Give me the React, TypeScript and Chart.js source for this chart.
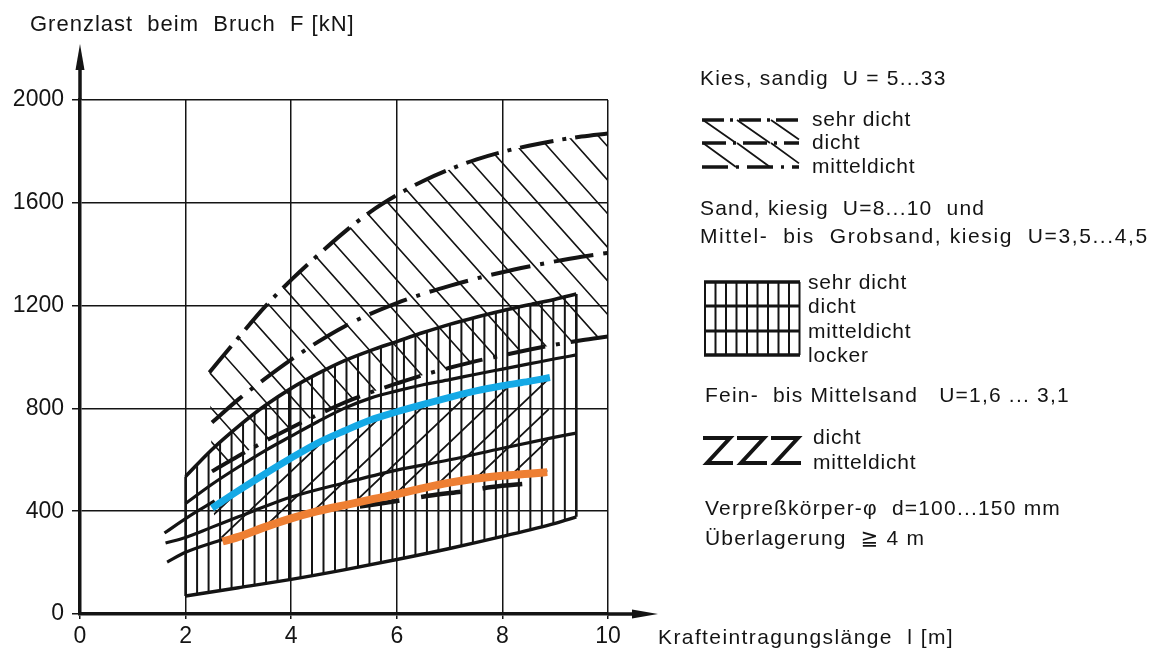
import React, { useEffect, useRef } from "react";
import { Chart, registerables } from "chart.js";

Chart.register(...registerables);

type Pt = [number, number];

const INK = "#141414";
const FONT = '"Liberation Sans", "DejaVu Sans", Arial, sans-serif';

// axis ticks
const xTickValues = [0, 2, 4, 6, 8, 10];
const yTickValues = [0, 400, 800, 1200, 1600, 2000];

// Kies, sandig U = 5...33  (l [m], F [kN])
const kiesSehrDicht: Pt[] = [[2.45, 940], [3, 1075], [3.5, 1195], [4, 1300], [4.5, 1395], [5, 1485], [5.5, 1565], [6, 1630], [6.5, 1685], [7, 1730], [7.5, 1768], [8, 1798], [8.5, 1822], [9, 1842], [9.5, 1858], [10, 1870]];
const kiesDicht: Pt[] = [[2.5, 745], [3, 835], [3.5, 915], [4, 990], [4.5, 1058], [5, 1118], [5.5, 1168], [6, 1210], [6.5, 1246], [7, 1277], [7.5, 1305], [8, 1330], [8.5, 1352], [9, 1372], [9.5, 1390], [10, 1405]];
const kiesMitteldicht: Pt[] = [[2.5, 555], [3, 615], [3.5, 672], [4, 725], [4.5, 775], [5, 822], [5.5, 862], [6, 897], [6.5, 930], [7, 958], [7.5, 984], [8, 1006], [8.5, 1028], [9, 1048], [9.5, 1065], [10, 1080]];

// Sand, kiesig / Mittel- bis Grobsand, kiesig
const sandSehrDicht: Pt[] = [[2, 535], [2.5, 640], [3, 730], [3.5, 810], [4, 878], [4.5, 935], [5, 985], [5.5, 1025], [6, 1060], [6.5, 1095], [7, 1127], [7.5, 1155], [8, 1180], [8.5, 1203], [9, 1225], [9.4, 1245]];
const sandDicht: Pt[] = [[2, 430], [2.5, 505], [3, 572], [3.5, 635], [4, 692], [4.5, 748], [5, 800], [5.5, 840], [6, 868], [6.5, 892], [7, 912], [7.5, 933], [8, 953], [8.5, 973], [9, 993], [9.4, 1008]];
const sandMitteldicht: Pt[] = [[1.62, 276], [2, 298], [2.5, 338], [3, 378], [3.5, 418], [4, 455], [5, 510], [6, 560], [7, 600], [8, 645], [9, 688], [9.4, 704]];
const sandLocker: Pt[] = [[2, 70], [3, 102], [4, 135], [5, 172], [6, 212], [7, 255], [8, 302], [9, 353], [9.4, 378]];

// Fein- bis Mittelsand U = 1,6...3,1
const feinDicht: Pt[] = [[2.5, 412], [3, 480], [3.5, 545], [4, 607], [4.5, 665], [5, 712], [5.5, 755], [6, 787], [6.5, 816], [7, 843], [7.5, 868], [8, 888], [8.5, 905], [8.9, 920]];
const feinMitteldicht: Pt[] = [[2.7, 282], [3, 300], [3.5, 338], [4, 372], [4.5, 400], [5, 423], [5.5, 445], [6, 466], [6.5, 490], [7, 511], [7.5, 527], [8, 538], [8.5, 546], [8.85, 552]];
const feinDichtStub: Pt[] = [[1.6, 315], [2.05, 378], [2.55, 440]];
const feinMitteldichtStub: Pt[] = [[1.65, 202], [2, 240], [2.7, 290]];
const feinMitteldichtDash: Pt[] = [[5.3, 418], [6, 440], [6.6, 460], [7.4, 481], [7.8, 494], [8.5, 508]];

// texts
const titleText = "Grenzlast  beim  Bruch  F [kN]";
const xTitleText = "Krafteintragungslänge  l [m]";
const kiesTitle = "Kies, sandig  U = 5...33";
const kiesLabels = ["sehr dicht", "dicht", "mitteldicht"];
const sandTitle = ["Sand, kiesig  U=8...10  und", "Mittel-  bis  Grobsand, kiesig  U=3,5...4,5"];
const sandLabels = ["sehr dicht", "dicht", "mitteldicht", "locker"];
const feinTitle = "Fein-  bis Mittelsand   U=1,6 ... 3,1";
const feinLabels = ["dicht", "mitteldicht"];
const notes = ["Verpreßkörper-φ  d=100...150 mm", "Überlagerung  ≧ 4 m"];

const hatchPlugin = {
  id: "hatch",
  beforeDatasetsDraw(chart: any) {
    const { ctx, chartArea: a, scales } = chart;
    const P = (pts: Pt[]) => pts.map(([x, y]) => [scales.x.getPixelForValue(x), scales.y.getPixelForValue(y)] as Pt);
    const region = (up: Pt[], lo: Pt[]) => {
      ctx.beginPath();
      up.forEach(([x, y], i) => (i ? ctx.lineTo(x, y) : ctx.moveTo(x, y)));
      [...lo].reverse().forEach(([x, y]) => ctx.lineTo(x, y));
      ctx.closePath();
      ctx.clip();
    };
    const slanted = (x0: number, y0: number, slope: number, spacing: number) => {
      ctx.beginPath();
      const yt = a.top - 20, yb = a.bottom + 20;
      for (let k = -90; k <= 90; k++) {
        const xs = x0 + k * spacing;
        ctx.moveTo(xs + (yt - y0) / slope, yt);
        ctx.lineTo(xs + (yb - y0) / slope, yb);
      }
      ctx.stroke();
    };
    ctx.save();
    ctx.beginPath();
    ctx.rect(a.left, a.top, a.right - a.left, a.bottom - a.top);
    ctx.clip();
    ctx.strokeStyle = INK;

    // Kies: "\" hatching
    const kUp = P(kiesSehrDicht), kLo = P(kiesMitteldicht);
    ctx.save();
    region(kUp, kLo);
    ctx.lineWidth = 1.6;
    slanted(kUp[0][0], kUp[0][1], 1.12, 30);
    ctx.restore();

    // Sand: vertical hatching
    const sUp = P(sandSehrDicht), sLo = P(sandLocker);
    ctx.save();
    region(sUp, sLo);
    ctx.lineWidth = 2;
    const x0 = sUp[0][0], x1 = sUp[sUp.length - 1][0];
    const n = 34;
    ctx.beginPath();
    for (let i = 0; i <= n; i++) {
      const x = x0 + ((x1 - x0) * i) / n;
      ctx.moveTo(x, a.top);
      ctx.lineTo(x, a.bottom);
    }
    ctx.stroke();
    ctx.restore();
    ctx.lineWidth = 2.6;
    ctx.beginPath();
    ctx.moveTo(sUp[0][0], sUp[0][1]);
    ctx.lineTo(sLo[0][0], sLo[0][1]);
    ctx.moveTo(sUp[sUp.length - 1][0], sUp[sUp.length - 1][1]);
    ctx.lineTo(sLo[sLo.length - 1][0], sLo[sLo.length - 1][1]);
    ctx.stroke();

    // Fein- bis Mittelsand: "/" hatching
    const fUp = P(feinDicht), fLo = P(feinMitteldicht);
    ctx.save();
    region(fUp, fLo);
    ctx.lineWidth = 1.8;
    slanted(fUp[fUp.length - 1][0], fUp[fUp.length - 1][1], -0.95, 32);
    ctx.restore();

    ctx.restore();
  },
};

const decorPlugin = {
  id: "decor",
  afterDraw(chart: any) {
    const { ctx, chartArea: a } = chart;
    ctx.save();
    ctx.strokeStyle = INK;
    ctx.fillStyle = INK;
    // axis extensions with arrows
    ctx.lineWidth = 3.5;
    ctx.beginPath();
    ctx.moveTo(a.left, a.top);
    ctx.lineTo(a.left, 60);
    ctx.moveTo(a.right, a.bottom);
    ctx.lineTo(640, a.bottom);
    ctx.stroke();
    ctx.beginPath();
    ctx.moveTo(a.left, 44);
    ctx.lineTo(a.left - 4.5, 70);
    ctx.lineTo(a.left + 4.5, 70);
    ctx.closePath();
    ctx.fill();
    ctx.beginPath();
    ctx.moveTo(658, a.bottom);
    ctx.lineTo(632, a.bottom - 4.5);
    ctx.lineTo(632, a.bottom + 4.5);
    ctx.closePath();
    ctx.fill();

    const text = (s: string, x: number, y: number, size: number, ls: number) => {
      ctx.font = `${size}px ${FONT}`;
      (ctx as any).letterSpacing = `${ls}px`;
      ctx.textAlign = "left";
      ctx.textBaseline = "alphabetic";
      ctx.fillText(s, x, y);
    };
    text(titleText, 30, 31, 22, 1);
    text(xTitleText, 658, 644, 21, 1.4);

    // Kies legend
    text(kiesTitle, 700, 85, 21, 1.2);
    const kRows = [120, 143, 167];
    const kDash = [[22, 6, 3, 6], [24, 7, 3, 7], [26, 8, 3, 8]];
    kRows.forEach((y, i) => {
      ctx.lineWidth = 3.5;
      ctx.setLineDash(kDash[i]);
      ctx.beginPath();
      ctx.moveTo(702, y);
      ctx.lineTo(799, y);
      ctx.stroke();
      ctx.setLineDash([]);
      text(kiesLabels[i], 812, y + 6, 21, 0.8);
    });
    ctx.lineWidth = 1.8;
    ctx.beginPath();
    for (let r = 0; r < 2; r++) {
      const yt = kRows[r], yb = kRows[r + 1];
      [703, 737, 771].forEach((x) => {
        ctx.moveTo(x, yt);
        ctx.lineTo(Math.min(x + 33, 799), yt + (Math.min(x + 33, 799) - x) * ((yb - yt) / 33));
      });
    }
    ctx.stroke();

    // Sand legend
    text(sandTitle[0], 700, 215, 21, 1.2);
    text(sandTitle[1], 700, 243, 21, 1.6);
    const sRows = [282, 306, 331, 355];
    sRows.forEach((y, i) => {
      ctx.lineWidth = i === 0 || i === 3 ? 3.6 : 3;
      ctx.beginPath();
      ctx.moveTo(704, y);
      ctx.lineTo(800, y);
      ctx.stroke();
      text(sandLabels[i], 808, y + 7, 21, 0.8);
    });
    ctx.lineWidth = 2;
    ctx.beginPath();
    for (let i = 0; i <= 9; i++) {
      const x = 705 + i * 10.5;
      ctx.moveTo(x, 282);
      ctx.lineTo(x, 355);
    }
    ctx.stroke();

    // Fein legend
    text(feinTitle, 705, 402, 21, 1.2);
    ctx.lineWidth = 4;
    ctx.lineJoin = "miter";
    [703, 737, 771].forEach((x) => {
      ctx.beginPath();
      ctx.moveTo(x, 438);
      ctx.lineTo(x + 27, 438);
      ctx.lineTo(x + 4, 463);
      ctx.lineTo(x + 30, 463);
      ctx.stroke();
    });
    text(feinLabels[0], 813, 444, 21, 0.8);
    text(feinLabels[1], 813, 469, 21, 0.8);

    text(notes[0], 705, 515, 21, 1.2);
    text(notes[1], 705, 545, 21, 1.2);
    ctx.restore();
  },
};

export default function App() {
  const ref = useRef<HTMLCanvasElement>(null);
  useEffect(() => {
    const canvas = ref.current;
    if (!canvas) return;
    const toXY = (pts: Pt[]) => pts.map(([x, y]) => ({ x, y }));
    const line = (label: string, pts: Pt[], opts: any = {}) => ({
      label,
      data: toXY(pts),
      borderColor: INK,
      borderWidth: 3,
      pointRadius: 0,
      fill: false,
      cubicInterpolationMode: "monotone",
      borderCapStyle: "butt",
      order: 2,
      ...opts,
    });
    const tickFont = { family: FONT, size: 23 };
    const chart = new Chart(canvas, {
      type: "line",
      data: {
        datasets: [
          line("Kies sehr dicht", kiesSehrDicht, { borderWidth: 4, borderDash: [34, 9, 4, 9] }),
          line("Kies dicht", kiesDicht, { borderWidth: 4, borderDash: [40, 10, 4, 10] }),
          line("Kies mitteldicht", kiesMitteldicht, { borderWidth: 4, borderDash: [38, 11, 4, 11] }),
          line("Sand sehr dicht", sandSehrDicht, { borderWidth: 3.6 }),
          line("Sand dicht", sandDicht, { borderWidth: 3.2 }),
          line("Sand mitteldicht", sandMitteldicht, { borderWidth: 3.2 }),
          line("Sand locker", sandLocker, { borderWidth: 3.4 }),
          line("Fein dicht (Anfang)", feinDichtStub, { borderWidth: 3.2 }),
          line("Fein mitteldicht (Anfang)", feinMitteldichtStub, { borderWidth: 3.2 }),
          line("Fein mitteldicht", feinMitteldichtDash, { borderWidth: 4.5, borderDash: [40, 22] }),
          line("Fein- bis Mittelsand dicht", feinDicht, { borderColor: "#14a9e6", borderWidth: 7, order: 0 }),
          line("Fein- bis Mittelsand mitteldicht", feinMitteldicht, { borderColor: "#ee7f33", borderWidth: 8, order: 0 }),
        ],
      },
      options: {
        responsive: false,
        animation: false,
        events: [],
        layout: { padding: { left: 0, right: 554, top: 100, bottom: 0 } },
        plugins: { legend: { display: false }, tooltip: { enabled: false }, title: { display: false } },
        scales: {
          x: {
            type: "linear",
            min: 0,
            max: 10,
            afterBuildTicks: (s: any) => {
              s.ticks = xTickValues.map((v) => ({ value: v }));
            },
            afterFit: (s: any) => {
              s.height = 41;
            },
            ticks: { font: tickFont, color: INK, padding: 4, maxRotation: 0, autoSkip: false, callback: (v: any) => String(v) },
            grid: { color: INK, lineWidth: 1.5, tickLength: 5 },
            border: { color: INK, width: 3.5 },
          },
          y: {
            type: "linear",
            min: 0,
            max: 2000,
            afterBuildTicks: (s: any) => {
              s.ticks = yTickValues.map((v) => ({ value: v }));
            },
            afterFit: (s: any) => {
              s.width = 80;
            },
            ticks: { font: tickFont, color: INK, padding: 8, callback: (v: any) => String(v) },
            grid: { color: INK, lineWidth: 1.5, tickLength: 8 },
            border: { color: INK, width: 3.5 },
          },
        },
      } as any,
      plugins: [hatchPlugin, decorPlugin],
    } as any);
    return () => chart.destroy();
  }, []);
  return (
    <div style={{ position: "fixed", left: 0, top: 0, width: 1162, height: 655, background: "#fff" }}>
      <canvas ref={ref} width={1162} height={655} style={{ display: "block" }} />
    </div>
  );
}
